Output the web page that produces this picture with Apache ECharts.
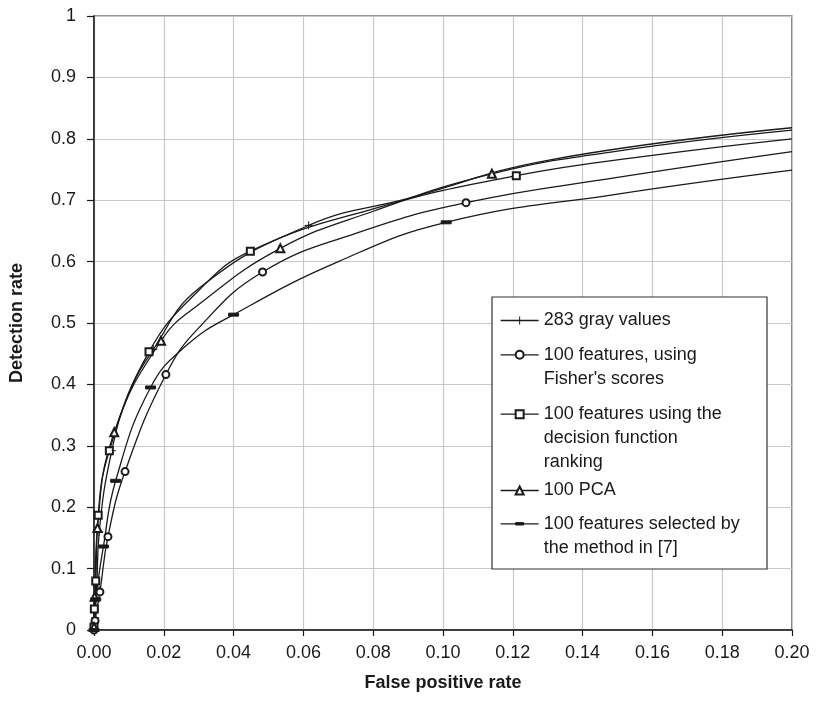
<!DOCTYPE html>
<html>
<head>
<meta charset="utf-8">
<script src="https://cdn.jsdelivr.net/npm/echarts@6/dist/echarts.min.js"></script>
<style>
  html, body { margin: 0; padding: 0; background: #fff; }
  #chart { width: 816px; height: 711px; }
</style>
</head>
<body>
<div id="chart"></div>
<script>
// Tick labels
const xTickLabels = ['0.00', '0.02', '0.04', '0.06', '0.08', '0.10', '0.12', '0.14', '0.16', '0.18', '0.20'];
const yTickLabels = ['0', '0.1', '0.2', '0.3', '0.4', '0.5', '0.6', '0.7', '0.8', '0.9', '1'];

// Series names, and how each one wraps inside the legend box
const seriesNames = [
  '283 gray values',
  "100 features, using Fisher's scores",
  '100 features using the decision function ranking',
  '100 PCA',
  '100 features selected by the method in [7]'
];
const legendLines = [
  ['283 gray values'],
  ['100 features, using', "Fisher's scores"],
  ['100 features using the', 'decision function', 'ranking'],
  ['100 PCA'],
  ['100 features selected by', 'the method in [7]']
];

// ROC points [false positive rate, detection rate] drawn with a marker
const grayMarked = [[0, 0], [0.0003, 0.02], [0.0008, 0.07], [0.0015, 0.16], [0.0051, 0.292], [0.017, 0.457], [0.0615, 0.659]];
// further points along the same curve (no marker)
const grayCurve = [[0.01, 0.385], [0.03, 0.556], [0.09, 0.703], [0.13, 0.765], [0.20, 0.818]];

const fisherMarked = [[0, 0], [0.0003, 0.015], [0.0017, 0.062], [0.004, 0.152], [0.0089, 0.258], [0.0206, 0.416], [0.0483, 0.583], [0.1066, 0.696]];
const fisherCurve = [[0.03, 0.492], [0.075, 0.646], [0.15, 0.737], [0.20, 0.779]];

const decisionMarked = [[0, 0.005], [0.0001, 0.034], [0.0005, 0.08], [0.0012, 0.187], [0.0044, 0.292], [0.01576, 0.453], [0.0448, 0.617], [0.121, 0.740]];
const decisionCurve = [[0.03, 0.553], [0.08, 0.686], [0.16, 0.773], [0.20, 0.80]];

const pcaMarked = [[0, 0.005], [0.0002, 0.054], [0.001, 0.166], [0.0058, 0.322], [0.0192, 0.471], [0.0534, 0.6216], [0.114, 0.743]];
const pcaCurve = [[0.03, 0.53], [0.08, 0.682], [0.15, 0.78], [0.20, 0.814]];

const selectedMarked = [[0, 0], [0.0005, 0.05], [0.0027, 0.136], [0.0062, 0.243], [0.0162, 0.395], [0.040, 0.5136], [0.1009, 0.664]];
const selectedCurve = [[0.0266, 0.464], [0.07, 0.60], [0.15, 0.71], [0.20, 0.749]];

const INK = '#1a1a1a';
const FONT = '"Liberation Sans", Arial, sans-serif';

// Marker shapes
const plusPath = 'path://M0,5H10M5,0V10';
const dashPath = 'path://M0,0M10,10M0,3.5H10V6.5H0Z';

function buildData(marked, curve) {
  const pts = marked.map(p => ({ value: p }))
    .concat(curve.map(p => ({ value: p, symbol: 'none' })));
  pts.sort((a, b) => a.value[0] - b.value[0]);
  return pts;
}

const seriesDefs = [
  { marked: grayMarked, curve: grayCurve, symbol: plusPath, size: 8 },
  { marked: fisherMarked, curve: fisherCurve, symbol: 'emptyCircle', size: 7 },
  { marked: decisionMarked, curve: decisionCurve, symbol: 'emptyRect', size: 7 },
  { marked: pcaMarked, curve: pcaCurve, symbol: 'emptyTriangle', size: 8 },
  { marked: selectedMarked, curve: selectedCurve, symbol: dashPath, size: 10 }
];

const series = seriesDefs.map((d, i) => ({
  name: seriesNames[i],
  type: 'line',
  data: buildData(d.marked, d.curve),
  smooth: 0.45,
  symbol: d.symbol,
  symbolSize: d.size,
  showSymbol: true,
  showAllSymbol: true,
  clip: true,
  color: INK,
  lineStyle: { color: INK, width: 1.3 },
  itemStyle: { color: INK, borderColor: INK, borderWidth: 1 },
  emphasis: { disabled: true },
  animation: false,
  z: 3
}));

// Legend: one component per entry; leading blank lines keep the
// first text line level with the icon while the rest wrap below it
const LINE_H = 24;
const legendIconY = [320.5, 354.8, 414.2, 490.5, 523.8];
const legends = legendLines.map((lines, i) => {
  const n = lines.length;
  const text = '\n'.repeat(n - 1) + lines.join('\n');
  return {
    data: [seriesNames[i]],
    left: 500,
    top: legendIconY[i] - (2 * n - 1) * LINE_H / 2,
    orient: 'vertical',
    padding: 0,
    itemWidth: 38,
    itemHeight: 10,
    selectedMode: false,
    z: 10,
    formatter: () => text,
    itemStyle: { borderWidth: 1 },
    lineStyle: { width: 1.3 },
    textStyle: { fontFamily: FONT, fontSize: 18, color: INK, lineHeight: LINE_H }
  };
});

const chart = echarts.init(document.getElementById('chart'), null, { renderer: 'canvas' });
chart.setOption({
  animation: false,
  backgroundColor: '#fff',
  grid: {
    left: 94, right: 24, top: 16, bottom: 81,
    show: true, borderColor: '#333', borderWidth: 1.2, backgroundColor: 'transparent'
  },
  xAxis: {
    type: 'value',
    min: 0, max: 0.2, interval: 0.02,
    name: 'False positive rate',
    nameLocation: 'middle',
    nameGap: 44,
    nameTextStyle: { fontFamily: FONT, fontSize: 18, fontWeight: 'bold', color: INK },
    axisLine: { show: true, lineStyle: { color: INK, width: 1.5 } },
    axisTick: { show: true, inside: false, length: 6, lineStyle: { color: INK, width: 1.2 } },
    axisLabel: {
      margin: 14, fontFamily: FONT, fontSize: 18, color: INK,
      formatter: (v) => xTickLabels[Math.round(v / 0.02)]
    },
    splitLine: { show: true, lineStyle: { color: '#c8c8c8', width: 1.2 } }
  },
  yAxis: {
    type: 'value',
    min: 0, max: 1, interval: 0.1,
    name: 'Detection rate',
    nameLocation: 'middle',
    nameGap: 68,
    nameTextStyle: { fontFamily: FONT, fontSize: 18, fontWeight: 'bold', color: INK },
    axisLine: { show: true, lineStyle: { color: INK, width: 1.5 } },
    axisTick: { show: true, inside: false, length: 7, lineStyle: { color: INK, width: 1.2 } },
    axisLabel: {
      margin: 18, fontFamily: FONT, fontSize: 18, color: INK,
      formatter: (v) => yTickLabels[Math.round(v / 0.1)]
    },
    splitLine: { show: true, lineStyle: { color: '#c8c8c8', width: 1.2 } }
  },
  legend: legends,
  graphic: [{
    type: 'rect',
    z: 5,
    shape: { x: 492, y: 297, width: 275, height: 272 },
    style: { fill: '#fff', stroke: '#333', lineWidth: 1.2 }
  }],
  series: series
});
</script>
</body>
</html>
